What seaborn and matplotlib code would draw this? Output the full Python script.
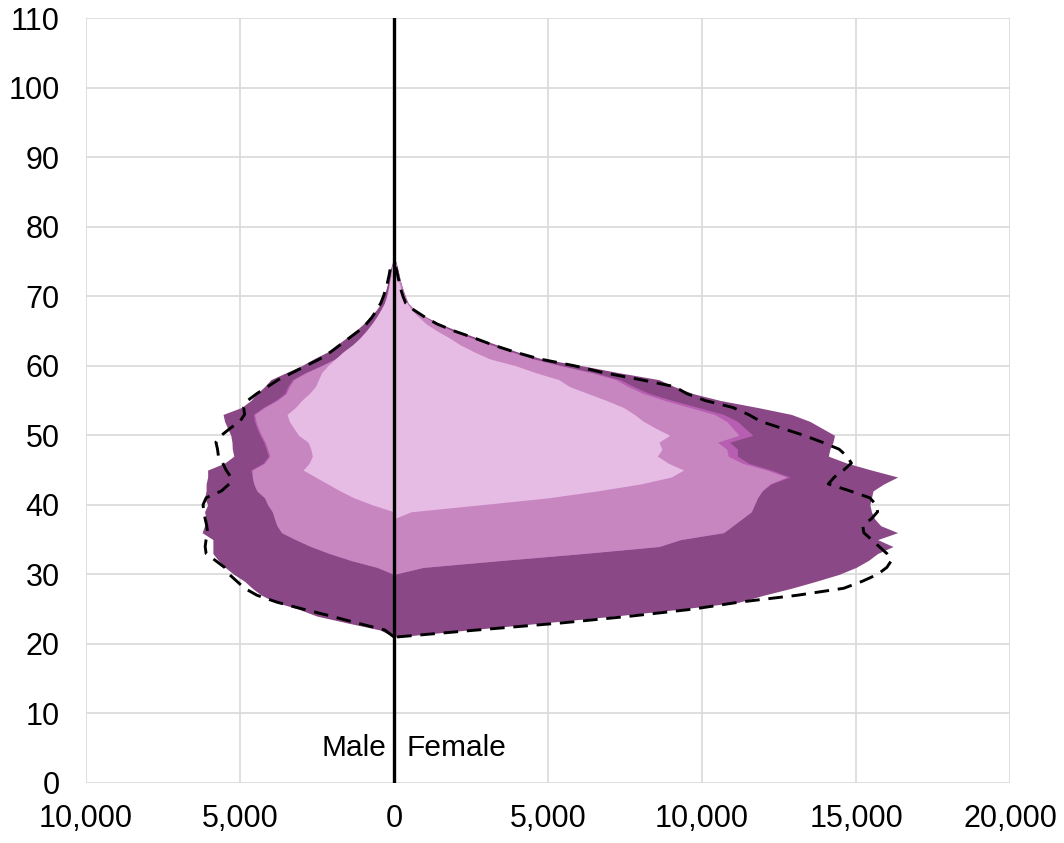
import numpy as np
import pandas as pd
import matplotlib
matplotlib.use("Agg")
import matplotlib.pyplot as plt
import seaborn as sns
from matplotlib.ticker import FuncFormatter

# single-year ages shown in the pyramid
ages = list(range(21, 76))

# female side, cumulative outer edge of each layer
female_total = [100, 2400, 4800, 7150, 9300, 11200, 12000, 12900, 13700, 14450,
                15000, 15400, 15700, 16200, 15700, 16350, 15800, 15600, 15500, 15450,
                15500, 15550, 15900, 16350, 15500, 14700, 14100, 14150, 14250, 14300,
                13900, 13500, 12900, 11800, 10600, 9700, 9100, 8600, 7300, 6100,
                4800, 4000, 3350, 2700, 2080, 1500, 1050, 680, 460, 370,
                290, 220, 170, 120, 60]
female_magenta = [0, 0, 0, 0, 0, 0, 0, 0, 0, 0,
                  950, 3500, 6150, 8600, 9300, 10700, 11000, 11300, 11600, 11700,
                  11800, 11950, 12250, 12850, 12250, 11500, 11150, 11150, 10900, 11650,
                  11400, 11150, 10700, 9880, 9050, 8300, 7780, 7350, 6500, 5460,
                  4540, 3840, 3190, 2540, 1930, 1420, 1020, 665, 450, 358,
                  280, 215, 163, 112, 57]
female_medium = [0, 0, 0, 0, 0, 0, 0, 0, 0, 0,
                 950, 3500, 6150, 8600, 9300, 10700, 11000, 11300, 11600, 11700,
                 11800, 11950, 12200, 12750, 12100, 11300, 10850, 10800, 10500, 11200,
                 11000, 10800, 10400, 9600, 8800, 8100, 7600, 7200, 6400, 5400,
                 4500, 3800, 3150, 2500, 1900, 1400, 1000, 650, 440, 350,
                 275, 210, 160, 110, 55]
female_light = [0, 0, 0, 0, 0, 0, 0, 0, 0, 0,
                0, 0, 0, 0, 0, 0, 0, 0, 550, 2800,
                5000, 6600, 8000, 9000, 9400, 8900, 8550, 8700, 8600, 8950,
                8500, 8100, 7800, 7450, 6900, 6300, 5700, 5350, 4600, 3950,
                3100, 2600, 2150, 1800, 1400, 1050, 800, 570, 420, 300,
                220, 160, 110, 70, 30]
female_dashed = [100, 2700, 5400, 7700, 9700, 11200, 13100, 14600, 15200, 15700,
                 16000, 16150, 16000, 15750, 15500, 15250, 15220, 15500, 15700, 15650,
                 15450, 14800, 14100, 14300, 14600, 14850, 14700, 14450, 13900, 13300,
                 12600, 11900, 11500, 11000, 10100, 9500, 9100, 8000, 6800, 5850,
                 4700, 3900, 3200, 2600, 1950, 1400, 1000, 650, 380, 290,
                 220, 170, 120, 70, 20]

# male side, same layers (positive numbers, drawn to the left)
male_total = [0, 450, 1500, 2500, 3100, 3850, 4300, 4600, 4850, 5200,
              5480, 5700, 5880, 5880, 5880, 6230, 6150, 6100, 6150, 6050,
              6150, 6100, 6100, 6050, 6050, 5500, 5200, 5250, 5260, 5300,
              5400, 5500, 5550, 4950, 4650, 4450, 4200, 4000, 3500, 3000,
              2600, 2150, 1850, 1550, 1250, 1000, 780, 580, 420, 330,
              260, 200, 150, 110, 40]
male_magenta = [0, 0, 0, 0, 0, 0, 0, 0, 0, 0,
                550, 1400, 2100, 2700, 3200, 3650, 3800, 3880, 3950, 4100,
                4200, 4450, 4550, 4600, 4650, 4250, 4080, 4150, 4230, 4350,
                4450, 4530, 4570, 4250, 3850, 3550, 3450, 3300, 2890, 2380,
                1920, 1570, 1330, 1110, 910, 730, 580, 440, 320, 250,
                200, 160, 120, 85, 30]
male_medium = [0, 0, 0, 0, 0, 0, 0, 0, 0, 0,
               550, 1400, 2100, 2700, 3200, 3650, 3800, 3880, 3950, 4100,
               4200, 4450, 4550, 4600, 4600, 4200, 4030, 4100, 4180, 4300,
               4400, 4480, 4520, 4200, 3800, 3500, 3400, 3250, 2850, 2350,
               1900, 1550, 1300, 1100, 900, 720, 570, 430, 310, 240,
               190, 150, 110, 80, 25]
male_light = [0, 0, 0, 0, 0, 0, 0, 0, 0, 0,
              0, 0, 0, 0, 0, 0, 0, 0, 0, 700,
              1300, 1750, 2150, 2550, 2950, 2750, 2650, 2700, 2790, 3100,
              3250, 3400, 3470, 3200, 3000, 2750, 2550, 2450, 2350, 2150,
              1900, 1650, 1350, 1100, 900, 720, 560, 430, 310, 230,
              180, 140, 100, 70, 20]
male_dashed = [0, 300, 1200, 2050, 2950, 3800, 4450, 4850, 5100, 5350,
               5500, 5800, 6100, 6130, 6100, 6050, 6080, 6130, 6170, 6200,
               6100, 5600, 5350, 5300, 5450, 5560, 5700, 5730, 5780, 5600,
               5320, 5000, 4850, 4880, 4750, 4450, 4100, 3750, 3300, 2850,
               2400, 2050, 1750, 1450, 1150, 900, 710, 560, 430, 340,
               270, 210, 160, 120, 60]

x_ticks = [-10000, -5000, 0, 5000, 10000, 15000, 20000]
y_ticks = list(range(0, 111, 10))

df = pd.DataFrame({
    "age": ages,
    "f_total": female_total, "f_magenta": female_magenta,
    "f_medium": female_medium, "f_light": female_light, "f_dashed": female_dashed,
    "m_total": -np.array(male_total), "m_magenta": -np.array(male_magenta),
    "m_medium": -np.array(male_medium), "m_light": -np.array(male_light),
    "m_dashed": -np.array(male_dashed),
})

sns.set_theme(style="white")
plt.rcParams['font.family'] = ['Liberation Sans', 'DejaVu Sans']

fig = plt.figure(figsize=(10.64, 8.43), dpi=100)
ax = fig.add_axes([0.0808, 0.0712, 0.8685, 0.9074])

layers = [("total", "#8a4886"), ("magenta", "#b75db2"),
          ("medium", "#c886c1"), ("light", "#e6bce5")]
for name, color in layers:
    for side in ("f", "m"):
        ax.fill_betweenx(df["age"], 0, df[f"{side}_{name}"], color=color, lw=0, zorder=2)

for side in ("f", "m"):
    sns.lineplot(data=df, x=f"{side}_dashed", y="age", orient="y", sort=False,
                 estimator=None, color="black", linestyle=(0, (5, 3)),
                 linewidth=2.1, ax=ax, zorder=3)

ax.axvline(0, color="black", lw=2.4, zorder=4)

ax.text(-260, 5, "Male", ha="right", va="center", fontsize=21.5, color="black", zorder=5)
ax.text(420, 5, "Female", ha="left", va="center", fontsize=21.5, color="black", zorder=5)

ax.set_xlim(-10000, 20000)
ax.set_ylim(0, 110)
ax.set_xticks(x_ticks)
ax.set_yticks(y_ticks)
ax.xaxis.set_major_formatter(FuncFormatter(lambda v, p: f"{abs(int(v)):,}"))
ax.grid(True, color="#d9d9d9", lw=1.2, zorder=0)
ax.set_axisbelow(True)
for s in ax.spines.values():
    s.set_visible(False)
ax.tick_params(axis="both", length=0, labelsize=22, colors="black")
ax.tick_params(axis="y", pad=19)
ax.tick_params(axis="x", pad=15)
ax.set_xlabel("")
ax.set_ylabel("")

fig.savefig("out.png", dpi=100)
